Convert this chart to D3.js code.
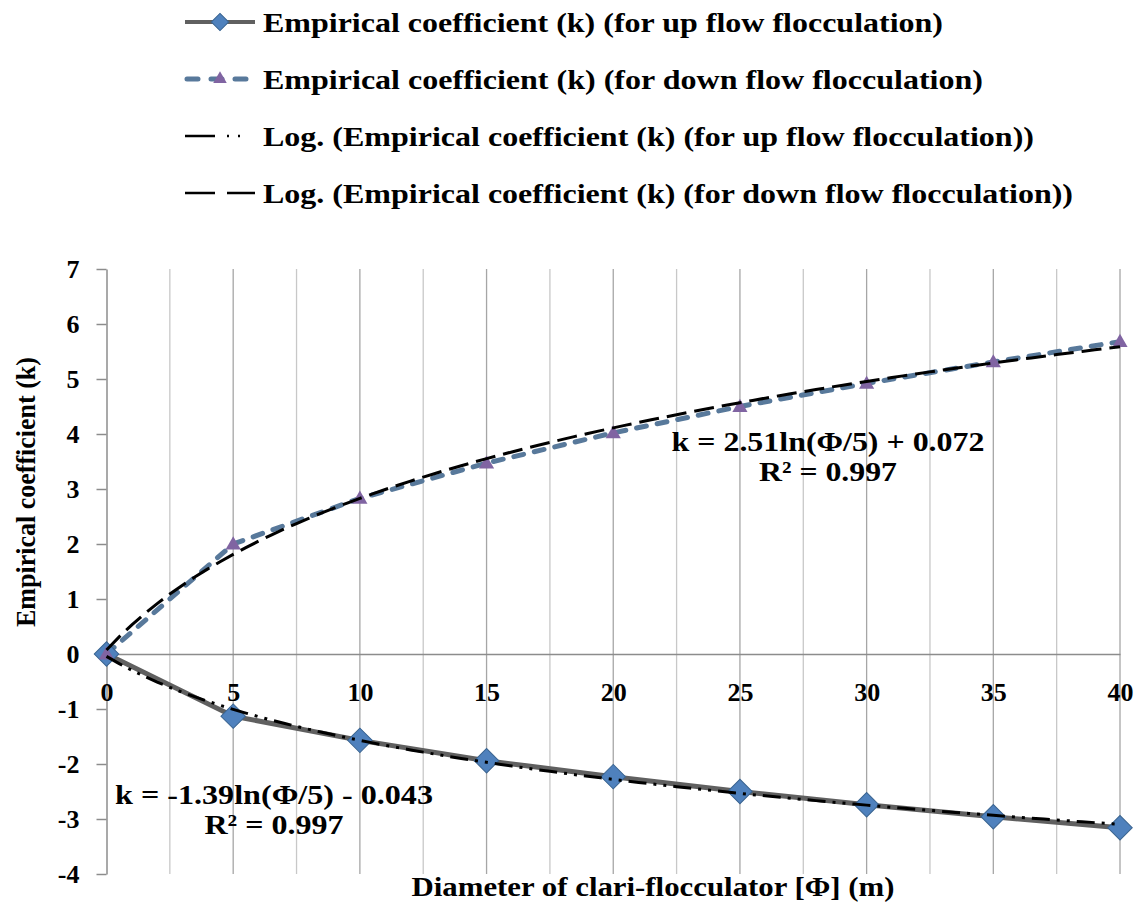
<!DOCTYPE html>
<html>
<head>
<meta charset="utf-8">
<script src="https://cdn.jsdelivr.net/npm/d3@7"></script>
<style>
  body { margin: 0; background: #fff; }
  svg { display: block; }
</style>
</head>
<body>
<div class="main"></div>
<script>
// Data
const diameters = [0, 5, 10, 15, 20, 25, 30, 35, 40];
const kUpFlow = [0, -1.13, -1.57, -1.94, -2.23, -2.50, -2.74, -2.96, -3.16];
const kDownFlow = [0, 2.00, 2.83, 3.47, 4.02, 4.50, 4.92, 5.31, 5.68];

// Log trendline coefficients shown on the chart (k = a ln(i) + b, i = category index)
const trendUpCoef = [-1.39, -0.043];
const trendDownCoef = [2.51, 0.072];

const yTicks = [-4, -3, -2, -1, 0, 1, 2, 3, 4, 5, 6, 7];
const xTicks = [0, 5, 10, 15, 20, 25, 30, 35, 40];
const xGrid = [2.5, 5, 7.5, 10, 12.5, 15, 17.5, 20, 22.5, 25, 27.5, 30, 32.5, 35, 37.5, 40];

const legendLabels = [
  'Empirical coefficient (k) (for up flow flocculation)',
  'Empirical coefficient (k) (for down flow flocculation)',
  'Log. (Empirical coefficient (k) (for up flow flocculation))',
  'Log. (Empirical coefficient (k) (for down flow flocculation))'
];
const xTitle = 'Diameter of clari-flocculator [Φ] (m)';
const yTitle = 'Empirical coefficient (k)';
const eqUp = ['k = -1.39ln(Φ/5) - 0.043', 'R² = 0.997'];
const eqDown = ['k = 2.51ln(Φ/5) + 0.072', 'R² = 0.997'];

// Layout
const width = 1142;
const height = 903;
const font = '"Liberation Serif", "Times New Roman", serif';

const svg = d3.select('.main')
  .append('svg')
  .attr('width', width)
  .attr('height', height)
  .style('font-family', font)
  .style('font-weight', 'bold');

const x = d3.scaleLinear().domain([0, 40]).range([106.5, 1120]);
const y = d3.scaleLinear().domain([-4, 7]).range([874, 269]);

// Vertical gridlines
svg.append('g')
  .selectAll('line')
  .data(xGrid)
  .enter()
  .append('line')
  .attr('x1', d => x(d)).attr('x2', d => x(d))
  .attr('y1', y(7)).attr('y2', y(-4))
  .attr('stroke', d => d % 5 === 0 ? '#a6a6a6' : '#c8c8c8')
  .attr('stroke-width', 1.3);

// Y axis
svg.append('g')
  .attr('transform', `translate(${x(0)},0)`)
  .call(d3.axisLeft(y).tickValues(yTicks).tickFormat(d => String(d)).tickSize(10).tickSizeOuter(0).tickPadding(17))
  .call(g => g.select('.domain').attr('stroke', '#8c8c8c').attr('stroke-width', 1.5))
  .call(g => g.selectAll('.tick line').attr('stroke', '#8c8c8c').attr('stroke-width', 1.5))
  .call(g => g.selectAll('text').attr('fill', '#000').style('font-family', font).style('font-size', '26px').style('font-weight', 'bold'));

// X axis (crosses at k = 0)
svg.append('g')
  .attr('transform', `translate(0,${y(0)})`)
  .call(d3.axisBottom(x).tickValues(xTicks).tickFormat(d => String(d)).tickSize(0).tickSizeOuter(0).tickPadding(29))
  .call(g => g.select('.domain').attr('stroke', '#8c8c8c').attr('stroke-width', 1.5))
  .call(g => g.selectAll('text').attr('fill', '#000').style('font-family', font).style('font-size', '26px').style('font-weight', 'bold'));

// Series
const line = d3.line().x(d => x(d[0])).y(d => y(d[1]));
const upPts = diameters.map((d, i) => [d, kUpFlow[i]]);
const downPts = diameters.map((d, i) => [d, kDownFlow[i]]);

svg.append('path')
  .datum(upPts)
  .attr('d', line)
  .attr('fill', 'none')
  .attr('stroke', '#606060')
  .attr('stroke-width', 5);

svg.append('path')
  .datum(downPts)
  .attr('d', line)
  .attr('fill', 'none')
  .attr('stroke', '#58799b')
  .attr('stroke-width', 5)
  .attr('stroke-linecap', 'round')
  .attr('stroke-dasharray', '10,11');

const diamond = d3.symbol().type(d3.symbolSquare).size(300);
const triangle = d3.symbol().type(d3.symbolTriangle).size(100);

svg.append('g')
  .selectAll('path')
  .data(upPts)
  .enter()
  .append('path')
  .attr('d', diamond)
  .attr('transform', d => `translate(${x(d[0])},${y(d[1])}) rotate(45)`)
  .attr('fill', '#4f81bd')
  .attr('stroke', '#3a6490')
  .attr('stroke-width', 1);

svg.append('g')
  .selectAll('path')
  .data(downPts)
  .enter()
  .append('path')
  .attr('d', triangle)
  .attr('transform', d => `translate(${x(d[0])},${y(d[1]) + 1})`)
  .attr('fill', '#8064a2');

// Log trendlines (Excel fits on category index 1..9)
const trendX = d3.range(0, 40.001, 0.5);
const trend = (c) => trendX.map(v => [v, c[0] * Math.log(v / 5 + 1) + c[1]]);

svg.append('path')
  .datum(trend(trendUpCoef))
  .attr('d', line)
  .attr('fill', 'none')
  .attr('stroke', '#000')
  .attr('stroke-width', 3)
  .attr('stroke-dasharray', '18,7,3,7,3,7');

svg.append('path')
  .datum(trend(trendDownCoef))
  .attr('d', line)
  .attr('fill', 'none')
  .attr('stroke', '#000')
  .attr('stroke-width', 3)
  .attr('stroke-dasharray', '20,8');

// Trendline equations
const eqText = (lines, cx, y0, widths) => {
  svg.append('g')
    .attr('text-anchor', 'middle')
    .style('font-size', '28px')
    .selectAll('text')
    .data(lines)
    .enter()
    .append('text')
    .attr('x', cx)
    .attr('y', (d, i) => y0 + i * 30)
    .attr('textLength', (d, i) => widths[i])
    .attr('lengthAdjust', 'spacingAndGlyphs')
    .text(d => d);
};
eqText(eqDown, 828, 451, [313, 138]);
eqText(eqUp, 274, 804, [318, 139]);

// Axis titles
svg.append('text')
  .attr('x', 653)
  .attr('y', 896)
  .attr('text-anchor', 'middle')
  .attr('textLength', 483)
  .attr('lengthAdjust', 'spacingAndGlyphs')
  .style('font-size', '28px')
  .text(xTitle);

svg.append('text')
  .attr('transform', 'translate(35,492) rotate(-90)')
  .attr('text-anchor', 'middle')
  .attr('textLength', 270)
  .attr('lengthAdjust', 'spacingAndGlyphs')
  .style('font-size', '28px')
  .text(yTitle);

// Legend
const legendY = d3.scaleLinear().domain([0, 3]).range([22, 193]);
const legendWidths = [680, 720, 771, 810];
const legend = svg.append('g');

legend.selectAll('text')
  .data(legendLabels)
  .enter()
  .append('text')
  .attr('x', 263)
  .attr('y', (d, i) => legendY(i) + 10)
  .attr('textLength', (d, i) => legendWidths[i])
  .attr('lengthAdjust', 'spacingAndGlyphs')
  .style('font-size', '28px')
  .text(d => d);

// legend samples
legend.append('line')
  .attr('x1', 185).attr('x2', 255).attr('y1', legendY(0)).attr('y2', legendY(0))
  .attr('stroke', '#606060').attr('stroke-width', 4);
legend.append('path')
  .attr('d', d3.symbol().type(d3.symbolSquare).size(150))
  .attr('transform', `translate(220,${legendY(0)}) rotate(45)`)
  .attr('fill', '#4f81bd').attr('stroke', '#3a6490');

legend.append('line')
  .attr('x1', 187).attr('x2', 255).attr('y1', legendY(1)).attr('y2', legendY(1))
  .attr('stroke', '#58799b').attr('stroke-width', 5)
  .attr('stroke-linecap', 'round').attr('stroke-dasharray', '11,13');
legend.append('path')
  .attr('d', d3.symbol().type(d3.symbolTriangle).size(80))
  .attr('transform', `translate(220,${legendY(1)})`)
  .attr('fill', '#8064a2');

legend.append('line')
  .attr('x1', 185).attr('x2', 255).attr('y1', legendY(2)).attr('y2', legendY(2))
  .attr('stroke', '#000').attr('stroke-width', 2.5)
  .attr('stroke-dasharray', '30,12,2,9,2,20');

legend.append('line')
  .attr('x1', 185).attr('x2', 255).attr('y1', legendY(3)).attr('y2', legendY(3))
  .attr('stroke', '#000').attr('stroke-width', 2.5)
  .attr('stroke-dasharray', '30,12');
</script>
</body>
</html>
